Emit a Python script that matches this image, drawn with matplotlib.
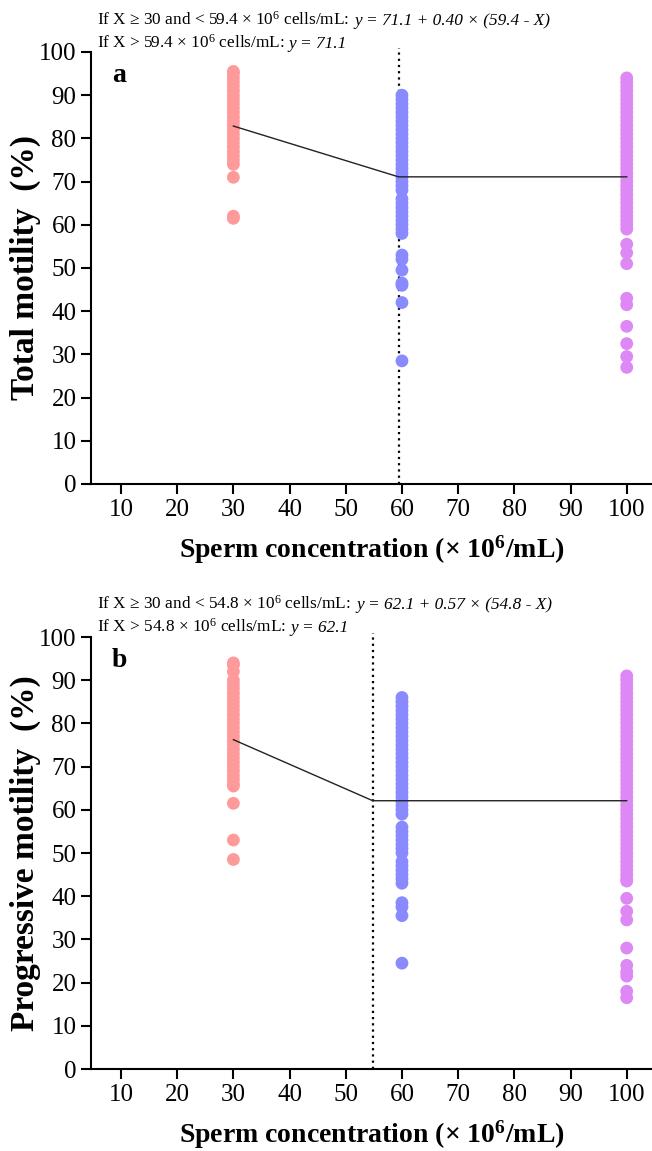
import matplotlib
matplotlib.use("Agg")
import matplotlib.pyplot as plt
import numpy as np

plt.rcParams['font.family'] = ['Liberation Serif', 'DejaVu Serif']
plt.rcParams['mathtext.fontset'] = 'custom'
plt.rcParams['mathtext.rm'] = 'Liberation Serif'
plt.rcParams['mathtext.it'] = 'Liberation Serif:italic'
plt.rcParams['mathtext.bf'] = 'Liberation Serif:bold'
plt.rcParams['mathtext.default'] = 'regular'

groups = [30, 60, 100]
colors = ['#FF9A9A', '#8A8AFF', '#DD88F5']

# panel a: total motility (%)
total_30 = [95.5, 95, 94, 93, 92, 91, 90, 89, 88, 87, 86, 85, 84, 83, 82, 81, 80,
            79, 78, 77, 76, 75, 74, 71, 62, 61.5]
total_60 = [90, 89, 88, 87, 86, 85, 84, 83, 82, 81, 80, 79, 78, 77, 76, 75, 74, 73,
            72, 71, 70, 69, 68, 66, 65, 64, 63, 62, 61, 60, 59, 58, 53, 52, 49.5,
            46.5, 46, 42, 28.5]
total_100 = [94, 93, 92, 91, 90, 89, 88, 87, 86, 85, 84, 83, 82, 81, 80, 79, 78, 77,
             76, 75, 74, 73, 72, 71, 70, 69, 68, 67, 66, 65, 64, 63, 62, 61, 60, 59,
             55.5, 53.5, 51, 43, 41.5, 36.5, 32.5, 29.5, 27]

# panel b: progressive motility (%)
prog_30 = [94, 93.5, 92, 90, 89, 88, 87, 86, 85, 84, 83, 82, 81, 80, 79, 78, 77, 76,
           75, 74, 73, 72, 71, 70, 69, 68, 67, 66, 65.5, 61.5, 53, 48.5]
prog_60 = [86, 85, 84, 83, 82, 81, 80, 79, 78, 77, 76, 75, 74, 73, 72, 71, 70, 69,
           68, 67, 66, 65, 64, 63, 62, 61, 60, 59, 56, 55, 54, 53, 52, 51, 50, 48,
           47, 46, 45, 44, 43, 38.5, 37.5, 35.5, 24.5]
prog_100 = [91, 90, 89, 88, 87, 86, 85, 84, 83, 82, 81, 80, 79, 78, 77, 76, 75, 74,
            73, 72, 71, 70, 69, 68, 67, 66, 65, 64, 63, 62, 61, 60, 59, 58, 57, 56,
            55, 54, 53, 52, 51, 50, 49, 48, 47, 46, 45, 44, 43.5, 39.5, 36.5, 34.5,
            28, 24, 22.5, 21.5, 18, 16.5]

# broken-line fits: breakpoint, plateau, slope
fit_a = (59.4, 71.1, 0.40)
fit_b = (54.8, 62.1, 0.57)

fig = plt.figure(figsize=(6.52, 11.51), dpi=100)


def panel(rect, data, fit, ylabel, letter, line1, line2, text_y):
    ax = fig.add_axes(rect)
    for x, vals, c in zip(groups, data, colors):
        ax.scatter(np.full(len(vals), x), vals, s=85, color=c, edgecolors='none',
                   zorder=2)
    bp, plateau, slope = fit
    xs = [groups[0], bp, groups[-1]]
    ys = [plateau + slope * (bp - groups[0]), plateau, plateau]
    ax.plot(xs, ys, color='#222222', lw=1.0, zorder=3)
    ax.axvline(bp, color='black', ls=(0, (1, 1.8)), lw=1.6, ymax=1.01,
               clip_on=False, zorder=1)
    ax.set_xlim(4.66, 104.5)
    ax.set_ylim(0, 100)
    ax.set_xticks(range(10, 101, 10))
    ax.set_yticks(range(0, 101, 10))
    for s in ['top', 'right']:
        ax.spines[s].set_visible(False)
    for s in ['left', 'bottom']:
        ax.spines[s].set_linewidth(1.5)
    ax.tick_params(labelsize=18, width=1.5, length=7, direction='out')
    ax.set_ylabel(ylabel, fontsize=24, fontweight='bold')
    ax.yaxis.set_label_coords(-0.09, 0.5)
    ax.set_xlabel(r'Sperm concentration (× 10$^{\mathbf{6}}$/mL)', fontsize=20,
                  fontweight='bold', labelpad=9)
    ax.text(0.037, 0.945, letter, transform=ax.transAxes, fontsize=20,
            fontweight='bold', va='center', ha='left')
    for txt, y in zip([line1, line2], text_y):
        head, tail = txt
        t = fig.text(97 / 652, 1 - y / 1151, head, fontsize=12.4, va='baseline')
        fig.canvas.draw()
        ax.annotate(tail, xy=(1, 0), xycoords=t, xytext=(3, 0),
                    textcoords='offset points', fontsize=12.4, style='italic',
                    va='bottom')
    return ax


panel([91 / 652, 1 - 484 / 1151, 561 / 652, 432 / 1151],
      [total_30, total_60, total_100], fit_a, 'Total motility  (%)', 'a',
      (r'If X ≥ 30 and < 59.4 × 10$^6$ cells/mL: ', 'y = 71.1 + 0.40 × (59.4 - X)'),
      (r'If X > 59.4 × 10$^6$ cells/mL:', 'y = 71.1'),
      (25, 48))
panel([91 / 652, 1 - 1069 / 1151, 561 / 652, 432 / 1151],
      [prog_30, prog_60, prog_100], fit_b, 'Progressive motility  (%)', 'b',
      (r'If X ≥ 30 and < 54.8 × 10$^6$ cells/mL: ', 'y = 62.1 + 0.57 × (54.8 - X)'),
      (r'If X > 54.8 × 10$^6$ cells/mL:', 'y = 62.1'),
      (609, 632))

fig.savefig('out.png', dpi=100)
